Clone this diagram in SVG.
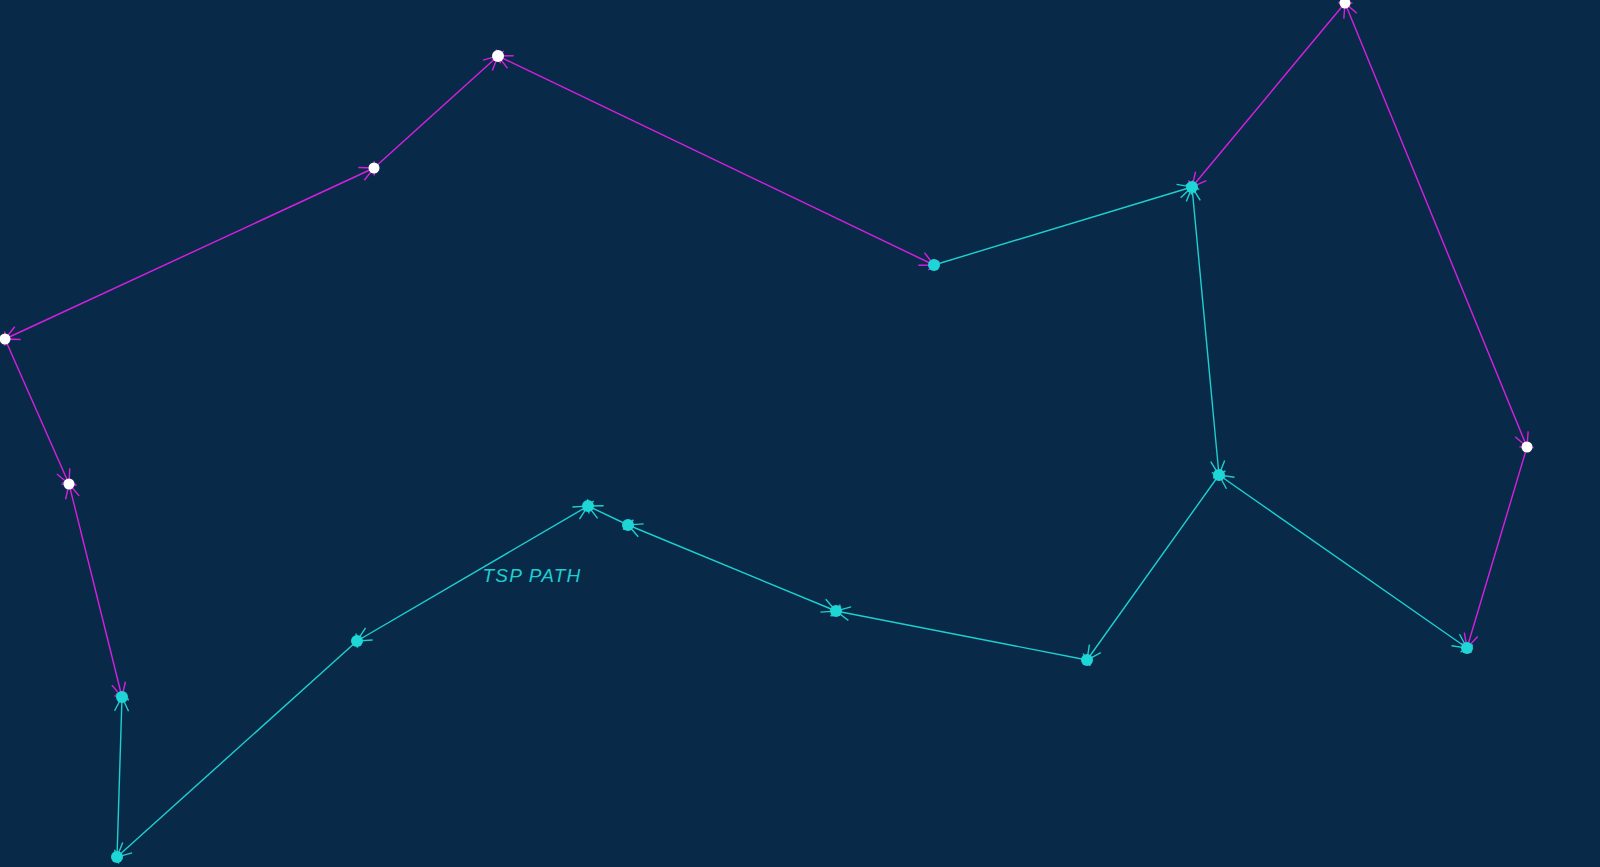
<svg xmlns="http://www.w3.org/2000/svg" width="1600" height="867" viewBox="0 0 1600 867">
<style>
.em{stroke:#d81fe0;stroke-width:1.4;fill:none}
.ec{stroke:#1fcfcf;stroke-width:1.4;fill:none}
.nw{fill:#ffffff}
.nc{fill:#1ed6d6}
.lbl{font-family:"Liberation Sans",sans-serif;font-style:italic;font-size:19px;letter-spacing:1.2px;fill:#1fcfcf;text-anchor:middle}
</style>
<defs>
<marker id="am" viewBox="-16 -10 32 20" refX="0" refY="0" markerWidth="32" markerHeight="20" markerUnits="userSpaceOnUse" orient="auto-start-reverse">
<path d="M-14,-7 L2,1 M-14,7 L2,-1 M3,-6 L-3,7" stroke="#d81fe0" stroke-width="1.4" fill="none"/>
</marker>
<marker id="ac" viewBox="-16 -10 32 20" refX="0" refY="0" markerWidth="32" markerHeight="20" markerUnits="userSpaceOnUse" orient="auto-start-reverse">
<path d="M-14,-7 L2,1 M-14,7 L2,-1 M3,-6 L-3,7" stroke="#1fcfcf" stroke-width="1.4" fill="none"/>
</marker>
</defs>
<rect width="1600" height="867" fill="#082a48"/>
<g id="connectors">
<line class="em" x1="5" y1="339" x2="374" y2="168" marker-start="url(#am)" marker-end="url(#am)"/>
<line class="em" x1="374" y1="168" x2="498" y2="56" marker-end="url(#am)"/>
<line class="em" x1="498" y1="56" x2="934" y2="265" marker-start="url(#am)" marker-end="url(#am)"/>
<line class="ec" x1="934" y1="265" x2="1192" y2="187" marker-end="url(#ac)"/>
<line class="em" x1="1345" y1="3" x2="1192" y2="187" marker-end="url(#am)"/>
<line class="em" x1="1345" y1="3" x2="1527" y2="447" marker-start="url(#am)" marker-end="url(#am)"/>
<line class="em" x1="1527" y1="447" x2="1467" y2="648" marker-end="url(#am)"/>
<line class="ec" x1="1219" y1="475" x2="1467" y2="648" marker-start="url(#ac)" marker-end="url(#ac)"/>
<line class="ec" x1="1192" y1="187" x2="1219" y2="475" marker-start="url(#ac)" marker-end="url(#ac)"/>
<line class="ec" x1="1219" y1="475" x2="1087" y2="660" marker-end="url(#ac)"/>
<line class="ec" x1="1087" y1="660" x2="836" y2="611" marker-end="url(#ac)"/>
<line class="ec" x1="836" y1="611" x2="628" y2="525" marker-start="url(#ac)" marker-end="url(#ac)"/>
<line class="ec" x1="628" y1="525" x2="588" y2="506" marker-end="url(#ac)"/>
<line class="ec" x1="588" y1="506" x2="357" y2="641" marker-start="url(#ac)" marker-end="url(#ac)"/>
<line class="ec" x1="357" y1="641" x2="117" y2="857" marker-end="url(#ac)"/>
<line class="ec" x1="117" y1="857" x2="122" y2="697" marker-end="url(#ac)"/>
<line class="em" x1="69" y1="484" x2="122" y2="697" marker-start="url(#am)" marker-end="url(#am)"/>
<line class="em" x1="5" y1="339" x2="69" y2="484" marker-end="url(#am)"/>
</g>
<g id="n1"><circle class="nw" cx="498" cy="56" r="6"/></g>
<g id="n2"><circle class="nw" cx="374" cy="168" r="5.5"/></g>
<g id="n3"><circle class="nw" cx="5" cy="339" r="5.5"/></g>
<g id="n4"><circle class="nw" cx="69" cy="484" r="5.5"/></g>
<g id="n5"><circle class="nc" cx="122" cy="697" r="6"/></g>
<g id="n6"><circle class="nc" cx="117" cy="857" r="6"/></g>
<g id="n7"><circle class="nc" cx="357" cy="641" r="6"/></g>
<g id="n8"><circle class="nc" cx="588" cy="506" r="6"/></g>
<g id="n9"><circle class="nc" cx="628" cy="525" r="6"/></g>
<g id="n10"><circle class="nc" cx="836" cy="611" r="6"/></g>
<g id="n11"><circle class="nc" cx="1087" cy="660" r="6"/></g>
<g id="n12"><circle class="nc" cx="1219" cy="475" r="6"/></g>
<g id="n13"><circle class="nc" cx="1192" cy="187" r="6"/></g>
<g id="n14"><circle class="nc" cx="934" cy="265" r="6"/></g>
<g id="n15"><circle class="nw" cx="1345" cy="3" r="5.5"/></g>
<g id="n16"><circle class="nw" cx="1527" cy="447" r="5.5"/></g>
<g id="n17"><circle class="nc" cx="1467" cy="648" r="6"/></g>
<text class="lbl" x="532" y="582">TSP PATH</text>
</svg>
